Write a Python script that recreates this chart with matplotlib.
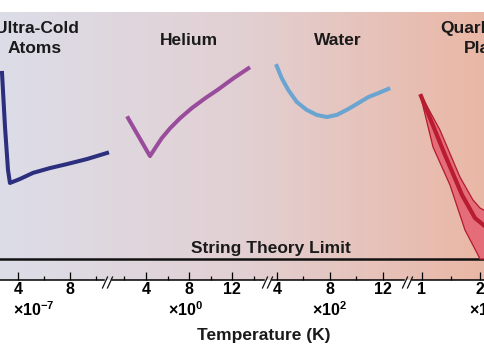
import numpy as np
import matplotlib
matplotlib.use("Agg")
import matplotlib.pyplot as plt
from matplotlib.colors import LinearSegmentedColormap

plt.rcParams["font.family"] = ["Liberation Sans", "DejaVu Sans"]
plt.rcParams["font.weight"] = "bold"
plt.rcParams["mathtext.fontset"] = "custom"
plt.rcParams["mathtext.rm"] = "Liberation Sans:bold"
plt.rcParams["mathtext.it"] = "Liberation Sans:bold"
plt.rcParams["mathtext.bf"] = "Liberation Sans:bold"

# eta/s in units of the string theory limit (1/4pi)
STRING_LIMIT = 1.0

# ultra-cold atoms, T in 1e-7 K
ATOMS_T = [2.77, 3.0, 3.23, 3.38, 4.15, 5.15, 6.46, 7.77, 9.31, 10.85]
ATOMS_ETA = [9.86, 7.29, 5.24, 4.62, 4.81, 5.10, 5.33, 5.52, 5.76, 6.05]

# helium, T in K
HELIUM_T = [2.33, 4.37, 4.84, 5.46, 6.23, 7.16, 8.25, 9.49, 10.73, 12.12, 13.52]
HELIUM_ETA = [7.71, 5.90, 6.27, 6.75, 7.22, 7.70, 8.18, 8.65, 9.08, 9.60, 10.08]

# water, T in 1e2 K
WATER_T = [3.98, 4.35, 4.85, 5.49, 6.24, 7.0, 7.75, 8.51, 9.26, 10.02, 10.89, 11.65, 12.40]
WATER_ETA = [10.19, 9.62, 9.05, 8.48, 8.10, 7.86, 7.76, 7.86, 8.10, 8.38, 8.71, 8.90, 9.10]

# quark-gluon plasma band, T in 1e12 K
QGP_T_UP = [0.983, 1.31, 1.655, 1.879, 2.0, 2.121]
QGP_UP = [8.81, 7.14, 4.90, 3.81, 3.43, 3.24]
QGP_T_LO = [0.983, 1.19, 1.483, 1.741, 1.948, 2.0, 2.121]
QGP_LO = [8.67, 6.33, 4.52, 2.38, 1.29, 1.0, 1.0]
QGP_T_MID = [0.983, 1.397, 1.69, 1.914, 2.121]
QGP_MID = [8.76, 5.95, 4.05, 2.95, 2.48]

# layout, in pixels of the 485x360 picture
W, H = 485, 360
AXIS_Y, TOP_Y = 280, 12
PX_PER_ETA = 21
YMAX = (AXIS_Y - TOP_Y) / PX_PER_ETA

# (left px, right px, anchor T, anchor px, px per unit, majors, minors, exponent, exponent T)
SEGMENTS = [
    (0, 104, 4, 18, 13.0, [4, 8], [6, 10], r"×10$^{-7}$", 5.23),
    (112, 264, 4, 146, 10.75, [4, 8, 12], [2, 6, 10, 14], r"×10$^{0}$", 7.72),
    (272, 404, 4, 277, 13.25, [4, 8, 12], [6, 10], r"×10$^{2}$", 8.0),
    (412, 485, 1, 422, 58.0, [1, 2], [1.5], r"×10$^{12}$", 2.17),
]
BREAKS_X = [108, 268, 408]

fig = plt.figure(figsize=(W / 100, H / 100), dpi=100)
plot_h = (AXIS_Y - TOP_Y) / H
plot_b = 1 - AXIS_Y / H

# background gradient and the string theory limit
bg = fig.add_axes([0, plot_b, 1, plot_h])
cmap = LinearSegmentedColormap.from_list("bg", ["#dcdde8", "#e2d0d3", "#eab7a5"])
bg.imshow(np.linspace(0, 1, 256)[None, :], cmap=cmap, aspect="auto",
          extent=[0, 1, 0, YMAX])
bg.set_xlim(0, 1)
bg.set_ylim(0, YMAX)
bg.axis("off")
bg.axhline(STRING_LIMIT, color="#111111", lw=1.8)

axes = []
for left, right, t0, p0, ppu, majors, minors, expo, expo_t in SEGMENTS:
    ax = fig.add_axes([left / W, plot_b, (right - left) / W, plot_h])
    ax.patch.set_visible(False)
    ax.set_xlim(t0 + (left - p0) / ppu, t0 + (right - p0) / ppu)
    ax.set_ylim(0, YMAX)
    for s in ("left", "right", "top"):
        ax.spines[s].set_visible(False)
    ax.spines["bottom"].set_linewidth(1.1)
    ax.set_yticks([])
    ax.set_xticks(majors, [f"{m:g}" for m in majors])
    ax.set_xticks(minors, minor=True)
    ax.tick_params(axis="x", which="both", direction="in", width=0.9,
                   labelsize=11.5, pad=1.5)
    ax.tick_params(axis="x", which="major", length=5.8)
    ax.tick_params(axis="x", which="minor", length=2.9)
    ax.text(expo_t, -(316 - AXIS_Y) / (AXIS_Y - TOP_Y), expo,
            transform=ax.get_xaxis_transform(), ha="center", va="baseline",
            fontsize=11.5, clip_on=False)
    axes.append(ax)

ax_atoms, ax_he, ax_water, ax_qgp = axes
ax_atoms.plot(ATOMS_T, ATOMS_ETA, color="#2b2f7e", lw=2.9, clip_on=False)
ax_he.plot(HELIUM_T, HELIUM_ETA, color="#9a4c9c", lw=2.9, clip_on=False)
ax_water.plot(WATER_T, WATER_ETA, color="#6aa4d1", lw=2.9, clip_on=False)

band_t = QGP_T_UP + QGP_T_LO[::-1]
band_eta = QGP_UP + QGP_LO[::-1]
ax_qgp.fill(band_t, band_eta, facecolor="#e56d79", edgecolor="#b3192f",
            lw=0.9, clip_on=False)
ax_qgp.plot(QGP_T_MID, QGP_MID, color="#b81c31", lw=3.0, clip_on=False)

# overlay in picture pixels for labels and axis breaks
deco = fig.add_axes([0, 0, 1, 1])
deco.set_xlim(0, W)
deco.set_ylim(H, 0)
deco.axis("off")
deco.patch.set_visible(False)
for bx in BREAKS_X:
    for dx in (-3, 2):
        deco.plot([bx + dx - 2.5, bx + dx + 2.5], [288, 277], color="#111111", lw=0.9)

lab = dict(ha="center", va="baseline", fontsize=12.5, color="#1a1a1a")
deco.text(37, 33, "Ultra-Cold", **lab)
deco.text(35, 53, "Atoms", **lab)
deco.text(189, 45, "Helium", **lab)
deco.text(338, 45, "Water", **lab)
deco.text(494, 33, "Quark-Gluon", **lab)
deco.text(494, 53, "Plasma", **lab)
deco.text(271, 253, "String Theory Limit", **lab)
deco.text(264, 340, "Temperature (K)", **lab)

fig.savefig("out.png", dpi=100)
